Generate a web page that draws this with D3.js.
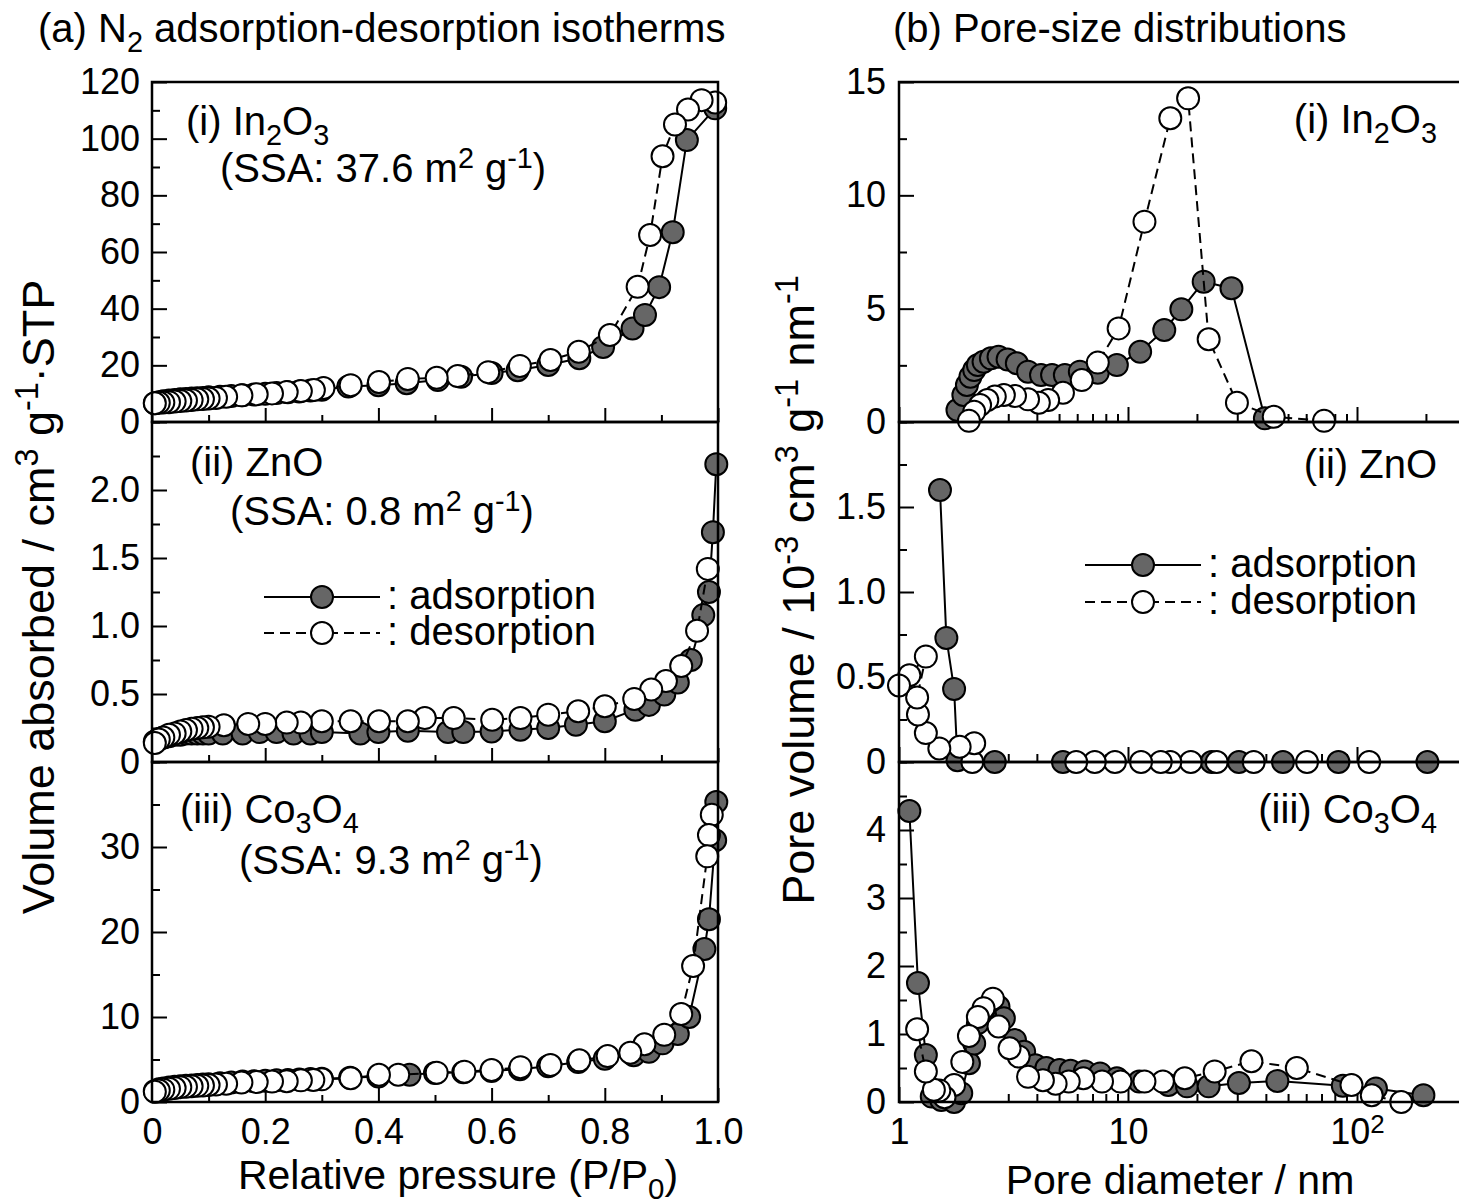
<!DOCTYPE html>
<html><head><meta charset="utf-8">
<script src="https://cdn.jsdelivr.net/npm/d3@7"></script>
<style>body{margin:0;background:#fff} svg{display:block}</style>
</head><body>
<svg id="fig" width="1459" height="1204"></svg>
<script>
// ---------- (a) N2 isotherms: [P/P0, volume adsorbed] ----------
const isoIn2O3Ads = [[0.005,6.6],[0.012,7.0],[0.02,7.3],[0.03,7.6],[0.04,7.8],[0.05,8.0],[0.06,8.1],[0.07,8.3],[0.08,8.4],[0.09,8.5],[0.10,8.7],[0.12,8.9],[0.14,9.2],[0.16,9.4],[0.18,9.7],[0.20,10.0],[0.22,10.2],[0.24,10.5],[0.26,10.8],[0.28,11.1],[0.30,11.4],[0.347,12.5],[0.40,13.0],[0.45,13.7],[0.505,14.8],[0.546,16.0],[0.60,17.3],[0.646,18.3],[0.70,20.1],[0.755,22.5],[0.797,26.5],[0.849,33.0],[0.871,37.8],[0.896,47.6],[0.920,67.0],[0.945,99.5],[0.995,110.7]];
const isoIn2O3Des = [[0.995,112.8],[0.971,113.6],[0.947,110.3],[0.924,105.0],[0.902,93.8],[0.880,66.0],[0.858,47.7],[0.809,30.7],[0.754,24.8],[0.704,21.9],[0.650,19.8],[0.594,17.6],[0.540,16.2],[0.503,15.6],[0.452,15.2],[0.401,14.1],[0.351,13.0],[0.303,12.0],[0.286,11.3],[0.263,10.9],[0.238,10.6],[0.212,10.1],[0.185,9.8],[0.158,9.4],[0.131,8.9],[0.113,8.5],[0.10,8.3],[0.09,8.1],[0.08,8.0],[0.07,7.8],[0.06,7.6],[0.05,7.4],[0.04,7.2],[0.03,7.0],[0.02,6.9],[0.012,6.8],[0.005,6.6]];

const isoZnOAds = [[0.005,0.15],[0.012,0.17],[0.02,0.18],[0.03,0.19],[0.04,0.20],[0.05,0.20],[0.06,0.21],[0.07,0.21],[0.08,0.21],[0.09,0.21],[0.10,0.21],[0.125,0.21],[0.16,0.21],[0.19,0.22],[0.22,0.22],[0.25,0.21],[0.28,0.21],[0.30,0.22],[0.368,0.21],[0.40,0.22],[0.452,0.23],[0.523,0.22],[0.55,0.22],[0.60,0.225],[0.651,0.237],[0.70,0.25],[0.749,0.274],[0.80,0.30],[0.854,0.385],[0.878,0.42],[0.905,0.496],[0.929,0.585],[0.952,0.75],[0.974,1.08],[0.984,1.25],[0.991,1.69],[0.997,2.19]];
const isoZnODes = [[0.982,1.42],[0.963,0.965],[0.935,0.706],[0.908,0.595],[0.882,0.533],[0.852,0.464],[0.80,0.41],[0.753,0.373],[0.70,0.348],[0.651,0.323],[0.601,0.311],[0.533,0.323],[0.482,0.323],[0.452,0.30],[0.401,0.30],[0.351,0.30],[0.30,0.30],[0.263,0.29],[0.238,0.29],[0.20,0.28],[0.17,0.28],[0.127,0.27],[0.10,0.26],[0.09,0.255],[0.08,0.25],[0.07,0.245],[0.06,0.235],[0.05,0.225],[0.04,0.21],[0.03,0.20],[0.02,0.18],[0.012,0.165],[0.005,0.14]];

const isoCo3O4Ads = [[0.005,1.3],[0.012,1.5],[0.02,1.6],[0.03,1.7],[0.04,1.8],[0.05,1.85],[0.06,1.9],[0.07,1.95],[0.08,2.0],[0.09,2.05],[0.10,2.1],[0.12,2.2],[0.14,2.3],[0.16,2.4],[0.18,2.45],[0.20,2.5],[0.22,2.55],[0.24,2.6],[0.26,2.65],[0.28,2.7],[0.30,2.75],[0.35,2.85],[0.40,3.0],[0.455,3.2],[0.50,3.4],[0.55,3.5],[0.60,3.65],[0.65,3.85],[0.70,4.2],[0.753,4.7],[0.80,5.1],[0.851,5.5],[0.878,5.9],[0.902,6.9],[0.929,8.0],[0.949,10.0],[0.976,18.0],[0.984,21.5],[0.995,30.8],[0.997,35.3]];
const isoCo3O4Des = [[0.989,33.8],[0.984,31.4],[0.981,28.9],[0.956,16.0],[0.935,10.35],[0.905,7.9],[0.870,6.8],[0.845,5.8],[0.805,5.4],[0.755,4.9],[0.704,4.35],[0.651,4.1],[0.60,3.76],[0.552,3.57],[0.503,3.45],[0.435,3.2],[0.401,3.2],[0.351,2.8],[0.30,2.67],[0.285,2.6],[0.263,2.55],[0.238,2.45],[0.212,2.4],[0.185,2.35],[0.158,2.3],[0.131,2.15],[0.113,2.05],[0.10,2.0],[0.09,1.95],[0.08,1.9],[0.07,1.85],[0.06,1.8],[0.05,1.75],[0.04,1.65],[0.03,1.55],[0.02,1.45],[0.012,1.35],[0.005,1.2]];

// ---------- (b) pore-size distributions: [diameter nm, pore volume] ----------
const psdIn2O3Ads = [[1.80,0.53],[1.91,1.19],[1.98,1.63],[2.05,2.0],[2.13,2.29],[2.21,2.51],[2.34,2.66],[2.52,2.81],[2.72,2.88],[2.98,2.76],[3.27,2.59],[3.66,2.22],[4.17,2.07],[4.66,2.07],[5.30,2.07],[6.16,2.22],[7.38,2.17],[8.94,2.51],[11.3,3.10],[14.4,4.06],[17.1,4.97],[21.4,6.19],[28.3,5.90],[39.6,0.16]];
const psdIn2O3Des = [[71.8,0.05],[43.3,0.23],[29.9,0.85],[22.5,3.65],[18.3,14.28],[15.3,13.4],[11.8,8.84],[9.10,4.13],[7.38,2.62],[6.28,1.85],[5.20,1.29],[4.48,0.97],[4.08,0.85],[3.66,1.00],[3.21,1.15],[2.87,1.19],[2.62,1.12],[2.43,0.97],[2.26,0.75],[2.13,0.45],[2.02,0.05]];

const psdZnOAds = [[1.51,1.60],[1.61,0.73],[1.74,0.43],[1.80,0.01],[2.62,0.0],[5.20,0.0],[23.2,0.0],[30.5,0.0],[47.5,0.0],[83.0,0.0],[203,0.0]];
const psdZnODes = [[113,0.0],[60.5,0.0],[35.4,0.0],[24.4,0.0],[18.8,0.0],[15.3,0.0],[13.9,0.0],[11.4,0.0],[8.77,0.0],[7.16,0.0],[5.94,0.0],[2.09,0.0],[2.13,0.11],[1.84,0.09],[1.50,0.08],[1.31,0.17],[1.21,0.28],[1.20,0.38],[1.31,0.62],[1.11,0.51],[1.00,0.45]];

const psdCo3O4Ads = [[1.11,4.28],[1.21,1.75],[1.31,0.69],[1.39,0.08],[1.53,0.03],[1.74,0.0],[1.87,0.13],[2.02,0.57],[2.13,0.86],[2.21,1.16],[2.38,1.38],[2.57,1.50],[2.72,1.40],[2.87,1.23],[3.21,0.91],[3.52,0.74],[3.94,0.54],[4.40,0.50],[5.02,0.47],[5.61,0.46],[6.48,0.45],[7.55,0.42],[8.94,0.35],[11.2,0.30],[15.0,0.25],[18.1,0.23],[22.5,0.23],[30.5,0.28],[44.9,0.31],[86.7,0.24],[121,0.20],[195,0.10]];
const psdCo3O4Des = [[156,0.0],[116,0.10],[94.6,0.25],[54.6,0.50],[34.6,0.60],[23.9,0.45],[17.7,0.35],[14.2,0.30],[11.8,0.30],[9.27,0.30],[7.70,0.30],[6.38,0.35],[5.51,0.30],[4.83,0.27],[4.25,0.32],[3.66,0.37],[3.33,0.67],[3.04,0.79],[2.72,1.11],[2.57,1.52],[2.34,1.38],[2.21,1.25],[2.02,0.97],[1.89,0.59],[1.74,0.25],[1.58,0.07],[1.50,0.17],[1.42,0.18],[1.31,0.45],[1.20,1.07]];

// ---------- axis ticks ----------
const aXMajor = [0,0.2,0.4,0.6,0.8,1.0];
const aXMinor = [0.1,0.3,0.5,0.7,0.9];
const aXLabels = ["0","0.2","0.4","0.6","0.8","1.0"];
const bXMajor = [1,10,100];
const bXMinor = [2,3,4,5,6,7,8,9,20,30,40,50,60,70,80,90,200,300];

const aYDomains = [[0,120],[0,2.5],[0,40]];
const aYMajor = [[0,20,40,60,80,100,120],[0,0.5,1.0,1.5,2.0],[0,10,20,30]];
const aYMinor = [[10,30,50,70,90,110],[0.25,0.75,1.25,1.75,2.25,2.5],[5,15,25,35,40]];
const aYLabels = [["0","20","40","60","80","100","120"],["0","0.5","1.0","1.5","2.0"],["0","10","20","30"]];

const bYDomains = [[0,15],[0,2],[0,5]];
const bYMajor = [[0,5,10,15],[0,0.5,1.0,1.5],[0,1,2,3,4]];
const bYMinor = [[2.5,7.5,12.5],[0.25,0.75,1.25,1.75,2.0],[0.5,1.5,2.5,3.5,4.5,5]];
const bYLabels = [["0","5","10","15"],["0","0.5","1.0","1.5"],["0","1","2","3","4"]];

const FONT = "'Liberation Sans', Arial, Helvetica, sans-serif";
const TICK_FS = 36, TEXT_FS = 40, YTITLE_FS = 45, XTITLE_FS = 41;
const FILL_ADS = "#666666";

const svg = d3.select("#fig").style("font-family", FONT);

const TOPS = [82, 422, 762];
const PH = 340;

const xA = d3.scaleLinear().domain([0, 1]).range([152, 718]);
const DEC = 229;
const xB = d3.scaleLog().domain([1, 300]).range([899, 899 + DEC * Math.log10(300)]);

// text with sub/superscript runs
function rich(sel, parts, size) {
  let shift = 0;
  parts.forEach(p => {
    const small = p.sup || p.sub;
    const target = p.sup ? -0.36 * size : p.sub ? 0.24 * size : 0;
    sel.append("tspan")
      .attr("dy", target - shift)
      .style("font-size", (small ? size * 0.72 : size) + "px")
      .text(p.t);
    shift = target;
  });
  return sel;
}

function styleAxis(g, fs) {
  g.select(".domain").remove();
  g.selectAll(".tick line").attr("stroke", "#000").attr("stroke-width", 2);
  g.selectAll(".tick text").attr("fill", "#000").style("font-size", fs + "px").style("font-family", FONT);
}

function drawSeries(g, x, y, ads, des) {
  const line = d3.line().x(d => x(d[0])).y(d => y(d[1]));
  g.append("path").datum(ads).attr("d", line)
    .attr("fill", "none").attr("stroke", "#000").attr("stroke-width", 2);
  g.selectAll(null).data(ads).join("circle")
    .attr("cx", d => x(d[0])).attr("cy", d => y(d[1])).attr("r", 11)
    .attr("fill", FILL_ADS).attr("stroke", "#000").attr("stroke-width", 2);
  g.append("path").datum(des).attr("d", line)
    .attr("fill", "none").attr("stroke", "#000").attr("stroke-width", 2)
    .attr("stroke-dasharray", "10,6");
  g.selectAll(null).data(des).join("circle")
    .attr("cx", d => x(d[0])).attr("cy", d => y(d[1])).attr("r", 11)
    .attr("fill", "#fff").attr("stroke", "#000").attr("stroke-width", 2);
}

// ---------- panel (a) ----------
const isoSets = [[isoIn2O3Ads, isoIn2O3Des], [isoZnOAds, isoZnODes], [isoCo3O4Ads, isoCo3O4Des]];
const gA = svg.append("g");
TOPS.forEach((top, i) => {
  const y = d3.scaleLinear().domain(aYDomains[i]).range([top + PH, top]);
  const g = gA.append("g");
  g.append("g").attr("transform", `translate(${xA.range()[0]},0)`)
    .call(d3.axisLeft(y).tickValues(aYMinor[i]).tickSize(-8).tickFormat(""))
    .call(a => styleAxis(a, TICK_FS));
  g.append("g").attr("transform", `translate(${xA.range()[0]},0)`)
    .call(d3.axisLeft(y).tickValues(aYMajor[i]).tickSize(-15).tickPadding(12)
      .tickFormat((d, k) => aYLabels[i][k]))
    .call(a => styleAxis(a, TICK_FS));
  g.append("g").attr("transform", `translate(0,${top + PH})`)
    .call(d3.axisBottom(xA).tickValues(aXMinor).tickSize(-7).tickFormat(""))
    .call(a => styleAxis(a, TICK_FS));
  g.append("g").attr("transform", `translate(0,${top + PH})`)
    .call(d3.axisBottom(xA).tickValues(aXMajor).tickSize(-14).tickPadding(16)
      .tickFormat((d, k) => i === 2 ? aXLabels[k] : ""))
    .call(a => styleAxis(a, TICK_FS));
  drawSeries(g, xA, y, isoSets[i][0], isoSets[i][1]);
  g.append("rect").attr("x", xA.range()[0]).attr("y", top)
    .attr("width", xA.range()[1] - xA.range()[0]).attr("height", PH)
    .attr("fill", "none").attr("stroke", "#000").attr("stroke-width", 2.5);
});

// ---------- panel (b) ----------
const psdSets = [[psdIn2O3Ads, psdIn2O3Des], [psdZnOAds, psdZnODes], [psdCo3O4Ads, psdCo3O4Des]];
const gB = svg.append("g");
TOPS.forEach((top, i) => {
  const y = d3.scaleLinear().domain(bYDomains[i]).range([top + PH, top]);
  const g = gB.append("g");
  g.append("g").attr("transform", `translate(${xB.range()[0]},0)`)
    .call(d3.axisLeft(y).tickValues(bYMinor[i]).tickSize(-8).tickFormat(""))
    .call(a => styleAxis(a, TICK_FS));
  g.append("g").attr("transform", `translate(${xB.range()[0]},0)`)
    .call(d3.axisLeft(y).tickValues(bYMajor[i]).tickSize(-15).tickPadding(13)
      .tickFormat((d, k) => bYLabels[i][k]))
    .call(a => styleAxis(a, TICK_FS));
  g.append("g").attr("transform", `translate(0,${top + PH})`)
    .call(d3.axisBottom(xB).tickValues(bXMinor).tickSize(-8).tickFormat(""))
    .call(a => styleAxis(a, TICK_FS));
  const ax = g.append("g").attr("transform", `translate(0,${top + PH})`)
    .call(d3.axisBottom(xB).tickValues(bXMajor).tickSize(-15).tickPadding(16)
      .tickFormat(d => i === 2 ? (d === 100 ? "10" : String(d)) : ""))
    .call(a => styleAxis(a, TICK_FS));
  if (i === 2) {
    ax.selectAll(".tick text").filter(d => d === 100)
      .append("tspan").attr("dy", "-0.4em").style("font-size", (TICK_FS * 0.72) + "px").text("2");
  }
  drawSeries(g, xB, y, psdSets[i][0], psdSets[i][1]);
  g.append("rect").attr("x", xB.range()[0]).attr("y", top)
    .attr("width", xB.range()[1] - xB.range()[0]).attr("height", PH)
    .attr("fill", "none").attr("stroke", "#000").attr("stroke-width", 2.5);
});

// ---------- titles and annotations ----------
function label(x, y, parts, anchor, fs) {
  const size = fs || TEXT_FS;
  const t = svg.append("text").attr("x", x).attr("y", y)
    .attr("text-anchor", anchor || "start").attr("fill", "#000")
    .style("font-size", size + "px");
  return rich(t, parts, size);
}

label(38, 42, [{t:"(a) N"},{t:"2",sub:true},{t:" adsorption-desorption isotherms"}]);
label(893, 42, [{t:"(b) Pore-size distributions"}]);

label(186, 135, [{t:"(i) In"},{t:"2",sub:true},{t:"O"},{t:"3",sub:true}]);
label(220, 182, [{t:"(SSA: 37.6 m"},{t:"2",sup:true},{t:" g"},{t:"-1",sup:true},{t:")"}]);
label(190, 476, [{t:"(ii) ZnO"}]);
label(230, 525, [{t:"(SSA: 0.8 m"},{t:"2",sup:true},{t:" g"},{t:"-1",sup:true},{t:")"}]);
label(180, 823, [{t:"(iii) Co"},{t:"3",sub:true},{t:"O"},{t:"4",sub:true}]);
label(239, 874, [{t:"(SSA: 9.3 m"},{t:"2",sup:true},{t:" g"},{t:"-1",sup:true},{t:")"}]);

label(1437, 133, [{t:"(i) In"},{t:"2",sub:true},{t:"O"},{t:"3",sub:true}], "end");
label(1437, 478, [{t:"(ii) ZnO"}], "end");
label(1437, 823, [{t:"(iii) Co"},{t:"3",sub:true},{t:"O"},{t:"4",sub:true}], "end");

label(458, 1189, [{t:"Relative pressure (P/P"},{t:"0",sub:true},{t:")"}], "middle", XTITLE_FS);
label(1180, 1194, [{t:"Pore diameter / nm"}], "middle", XTITLE_FS);

svg.append("text").attr("transform", "translate(54,597) rotate(-90)")
  .attr("text-anchor", "middle").style("font-size", YTITLE_FS + "px")
  .call(t => rich(t, [{t:"Volume absorbed / cm"},{t:"3",sup:true},{t:" g"},{t:"-1",sup:true},{t:"\u00b7STP"}], YTITLE_FS));
svg.append("text").attr("transform", "translate(814,590) rotate(-90)")
  .attr("text-anchor", "middle").style("font-size", YTITLE_FS + "px")
  .call(t => rich(t, [{t:"Pore volume / 10"},{t:"-3",sup:true},{t:" cm"},{t:"3",sup:true},{t:" g"},{t:"-1",sup:true},{t:" nm"},{t:"-1",sup:true}], YTITLE_FS));

// ---------- legends ----------
function legend(x0, x1, yAds, yDes, tx) {
  const mx = (x0 + x1) / 2;
  const g = svg.append("g");
  [[yAds, FILL_ADS, null, ": adsorption"], [yDes, "#fff", "10,6", ": desorption"]].forEach(([yy, fill, dash, txt]) => {
    g.append("line").attr("x1", x0).attr("x2", x1).attr("y1", yy).attr("y2", yy)
      .attr("stroke", "#000").attr("stroke-width", 2).attr("stroke-dasharray", dash);
    g.append("circle").attr("cx", mx).attr("cy", yy).attr("r", 11)
      .attr("fill", fill).attr("stroke", "#000").attr("stroke-width", 2);
    g.append("text").attr("x", tx).attr("y", yy + 12).style("font-size", TEXT_FS + "px").text(txt);
  });
}
legend(264, 380, 597, 633, 387);
legend(1085, 1201, 565, 602, 1208);
</script>
</body></html>
